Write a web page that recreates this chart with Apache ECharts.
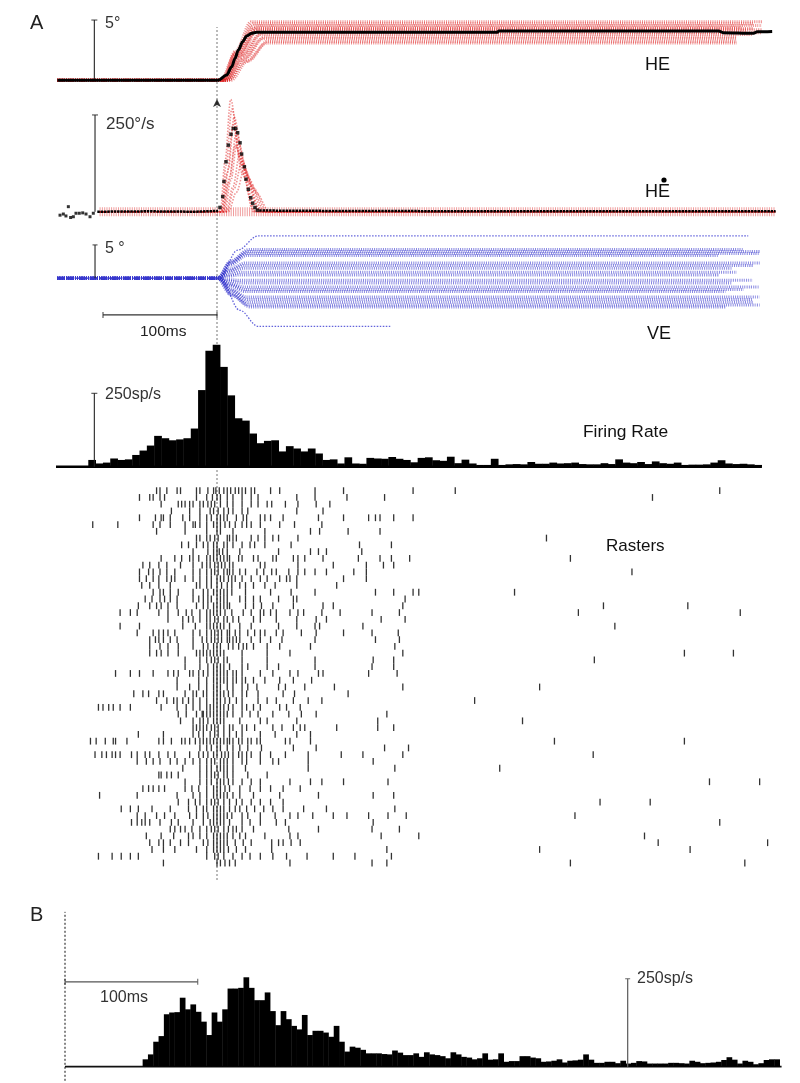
<!DOCTYPE html>
<html><head><meta charset="utf-8">
<script src="https://cdn.jsdelivr.net/npm/echarts@6/dist/echarts.min.js"></script>
<style>html,body{margin:0;padding:0;background:#fff;}#c{width:800px;height:1083px;}</style>
</head><body><div id="c"></div>
<script>
// ================= DATA =================
// Horizontal eye position (deg): mean trace and individual trials (red)
const heMean = [[-140,0],[1,0],[8.5,0.44],[12.9,1.13],[15.8,1.82],[18.7,2.51],[22.5,3.2],[26,3.67],[30.4,3.9],[34.8,3.98],[246,3.98],[247,4.1],[440,4.1],[444,3.95],[470,3.9],[474,4.02],[487,4.05]];
const heTrials = [
  [[-140,0],[5,0],[16,2.4],[30,4.85],[478,4.85]],
  [[-140,0],[6,0],[17,2.35],[32,4.7],[470,4.7]],
  [[-140,0],[4,0],[17,2.3],[33,4.55],[478,4.55]],
  [[-140,0],[7,0],[19,2.2],[35,4.4],[460,4.4]],
  [[-140,0],[3,0],[16,2.15],[33,4.3],[470,4.3]],
  [[-140,0],[8,0],[20,2.1],[36,4.2],[478,4.2]],
  [[-140,0],[5,0],[18,2.05],[35,4.1],[465,4.1]],
  [[-140,0],[9,0],[22,2.0],[40,3.95],[478,3.95]],
  [[-140,0],[6,0],[20,1.9],[38,3.8],[470,3.8]],
  [[-140,0],[10,0],[24,1.8],[42,3.6],[456,3.6]],
  [[-140,0],[7,0],[22,1.7],[40,3.45],[456,3.45]],
  [[-140,0],[12,0],[27,1.6],[45,3.25],[456,3.25]],
  [[-140,0],[9,0],[25,1.55],[44,3.1],[456,3.1]]
];
// Horizontal eye velocity (deg/s)
const velMeanT = [2.6,5,6.1,7.9,9.9,12.3,14.3,16.4,18.1,20.2,21.6,24,25.4,27.5,29.6,31.3,33.3,35.4];
const velMeanV = [11,39,78,129,172,200,215,215,204,178,149,116,84,58,36,22,11,4];
const velNoiseT = [-140.6,-137.7,-134.8,-132.5,-130.4,-128.4,-126,-123.7,-120.8,-117.8,-114.9,-111.4,-108.5];
const velNoiseV = [-4,-9,-6,-11,13,-15,-13,-4,-4,-3,-6,-13,-4];
const velMeanPre = [[-105,0],[-60,1],[-20,0],[1,2]];
const velMeanPost = [[37,3],[100,2],[250,1],[490,1]];
const velBand = [[-103,0],[490,0]];
const velTrials = [
  [[-103,0],[3,0],[7,130],[12,290],[20,140],[32,0],[490,0]],
  [[-103,0],[4,0],[8,120],[13,265],[22,120],[34,0],[490,0]],
  [[-103,0],[5,0],[10,110],[15,245],[24,110],[36,0],[490,0]],
  [[-103,0],[4,0],[9,100],[14,225],[22,100],[33,0],[490,0]],
  [[-103,0],[6,0],[11,90],[17,205],[26,95],[38,0],[490,0]],
  [[-103,0],[7,0],[12,80],[18,185],[28,85],[40,0],[490,0]],
  [[-103,0],[5,0],[10,75],[16,170],[26,80],[38,0],[490,0]],
  [[-103,0],[8,0],[14,65],[20,150],[30,70],[42,0],[490,0]],
  [[-103,0],[9,0],[15,60],[22,130],[32,60],[44,0],[490,0]],
  [[-103,0],[10,0],[17,50],[24,110],[34,50],[46,0],[490,0]]
];
// Vertical eye position (deg), individual trials (blue)
const veTrials = [
  [[-140,0],[2,0],[18,4.2],[36,6.35],[466,6.35]],
  [[-140,0],[1,0],[12,2.6],[28,4.3],[462,4.3]],
  [[-140,0],[1,0],[12,2.4],[27,4.0],[476,4.0]],
  [[-140,0],[0,0],[11,2.2],[26,3.7],[476,3.7]],
  [[-140,0],[2,0],[12,2.0],[26,3.4],[440,3.4]],
  [[-140,0],[1,0],[11,1.4],[25,2.3],[476,2.3]],
  [[-140,0],[0,0],[10,1.1],[24,1.9],[470,1.9]],
  [[-140,0],[2,0],[11,0.9],[24,1.5],[452,1.5]],
  [[-140,0],[1,0],[10,0.5],[22,0.9],[456,0.9]],
  [[-140,0],[0,0],[10,0.3],[20,0.5],[440,0.5]],
  [[-140,0],[1,0],[10,-0.2],[20,-0.3],[470,-0.3]],
  [[-140,0],[0,0],[10,-0.4],[22,-0.7],[452,-0.7]],
  [[-140,0],[1,0],[11,-0.8],[24,-1.3],[476,-1.3]],
  [[-140,0],[2,0],[12,-1.0],[25,-1.7],[462,-1.7]],
  [[-140,0],[0,0],[11,-1.2],[25,-2.0],[446,-2.0]],
  [[-140,0],[1,0],[12,-1.7],[26,-2.8],[476,-2.8]],
  [[-140,0],[2,0],[13,-1.9],[27,-3.2],[470,-3.2]],
  [[-140,0],[1,0],[12,-2.2],[27,-3.6],[470,-3.6]],
  [[-140,0],[0,0],[12,-2.4],[28,-4.0],[476,-4.0]],
  [[-140,0],[2,0],[13,-2.6],[29,-4.3],[446,-4.3]],
  [[-140,0],[3,0],[20,-4.8],[36,-7.2],[152,-7.2]]
];
// Firing rate histogram, panel A (sp/s)
const frStart = -145, frWidth = 6.42;
const frValues = [0,0,0,0,0,23,11,14,28,23,25,40,55,72,105,97,90,93,97,130,261,395,415,340,243,165,157,113,80,88,90,52,70,62,52,62,45,23,25,11,32,11,10,30,28,27,33,27,23,15,30,32,22,20,34,12,24,11,6,6,27,6,8,9,8,16,10,10,14,11,12,14,9,8,8,12,9,25,14,12,16,9,18,12,10,14,6,7,7,8,14,22,11,9,10,8,6];
const frBaseline = [[-142,0],[478,0]];
// Rasters: spike times (ms) per trial
const rasterTimes = [
[-53,-50,-44,-35,-32,-18,-15,-8,-3,-1,2,6,9,12,16,19,22,25,30,33,47,55,86,111,172,209,441],
[-68,-59,-56,-50,-46,-18,-9,-4,0,3,9,14,22,30,36,70,86,114,147,382],
[-49,-34,-31,-28,-24,-21,-15,-12,-8,-5,-2,3,9,14,22,30,36,44,48,60,71,87,99],
[-40,-24,-15,-6,-3,1,6,10,14,22,27,70,93],
[-68,-54,-49,-47,-41,-30,-24,-15,-9,-5,0,3,6,9,17,23,26,38,42,47,58,89,111,133,139,143,155,172],
[-109,-87,-56,-50,-41,-28,-21,-19,-15,-9,-3,0,3,7,11,16,22,26,30,38,55,68,92],
[-53,-28,-9,0,3,14,42,82,90,115,143],
[-18,-15,-9,-6,-2,1,9,11,14,17,30,36,42,49,54,71,289],
[-31,-25,-18,-12,-8,-3,0,6,9,14,22,29,33,42,65,125,153],
[-21,-8,-3,0,2,5,9,20,54,82,89,96,127],
[-49,-37,-31,-24,-21,-16,-9,-6,-3,0,3,6,9,11,19,22,32,36,49,52,67,71,77,93,124,143,153,169,310],
[-65,-59,-51,-44,-32,-21,-13,-9,-6,-2,1,4,7,11,14,38,42,71,102,131,146,155],
[-68,-60,-56,-50,-44,-37,-21,-15,-9,-5,-2,1,6,9,11,14,20,25,35,41,48,52,63,71,77,86,96,120,131,364],
[-68,-62,-56,-51,-44,-40,-37,-28,-21,-15,-9,-5,0,3,6,10,13,16,22,30,38,44,55,61,64,70,111,131],
[-66,-59,-51,-41,-18,-15,-9,-5,0,4,9,13,20,25,32,42,51,70,105],
[-56,-50,-47,-41,-34,-21,-12,-8,-3,0,3,6,9,13,25,47,65,86,139,155,172,177,261],
[-63,-57,-50,-46,-41,-35,-21,-16,-12,-8,-5,0,3,6,9,20,25,32,38,54,67,70,165],
[-69,-59,-53,-49,-43,-35,-18,-12,-8,-3,0,3,6,9,11,25,32,39,49,67,93,102,163,339,413],
[-85,-76,-70,-51,-43,-34,-27,-22,-15,-9,-6,-3,0,3,7,13,23,30,38,41,47,52,64,71,76,92,108,136,160,317,459],
[-43,-30,-25,-21,-15,-9,-6,-2,1,6,9,14,19,32,38,52,70,87,96,144,165],
[-85,-68,-30,-19,-9,-6,-3,0,3,6,11,20,30,54,70,86,90,128,349],
[-70,-56,-51,-47,-43,-37,-21,-15,-9,-5,-2,1,4,9,11,16,20,27,33,38,42,52,58,74,87,111,136,159],
[-59,-54,-51,-47,-41,-35,-21,-13,-9,-5,-2,1,4,9,11,14,17,20,30,38,47,57,86,139,160],
[-59,-50,-43,-34,-21,-12,-8,-3,0,3,10,14,19,23,26,32,44,55,82,156],
[-59,-53,-49,-43,-34,-18,-15,-12,-9,-6,-3,0,3,6,22,44,64,163,410,453],
[-28,-15,-9,-5,-2,1,6,9,22,44,86,137,155,331],
[-28,-15,-8,-3,0,3,6,11,22,27,44,54,86,136,155],
[-89,-76,-68,-56,-43,-38,-34,-24,-21,-16,-12,-8,-3,0,3,6,9,14,17,22,38,49,64,71,89,93,133,158],
[-35,-16,-9,-3,0,3,6,9,14,17,22,25,32,42,55,67,83],
[-35,-24,-16,-9,-3,0,3,9,14,22,27,35,54,60,77,103,163,283],
[-73,-65,-60,-51,-47,-28,-21,-18,-12,-9,-3,0,3,6,10,14,22,26,36,58,68,115],
[-53,-44,-38,-35,-30,-25,-21,-15,-9,-3,0,3,7,11,17,22,36,44,52,67,80,92,226],
[-104,-100,-95,-91,-85,-76,-49,-35,-27,-21,-15,-9,-6,-3,0,3,6,10,14,22,26,32,38,55,61,73],
[-34,-27,-18,-13,-12,-9,-6,-3,0,3,6,9,14,22,29,36,49,63,74,87,149],
[-32,-21,-15,-12,-8,-3,0,3,6,20,38,44,70,141,268],
[-21,-18,-15,-12,-9,-5,-2,1,6,11,14,22,26,33,49,57,67,73,77,105,141,155],
[-69,-47,-21,-16,-12,-6,-2,1,6,11,17,22,38,51,70,82],
[-111,-106,-98,-91,-89,-79,-51,-47,-40,-31,-28,-24,-19,-15,-12,-9,-6,-3,0,3,6,9,11,14,19,22,27,30,35,38,60,64,82,296,410],
[-15,-9,-5,0,3,9,14,20,27,39,67,87,147,168],
[-107,-101,-97,-92,-89,-85,-75,-70,-63,-59,-51,-43,-37,-24,-16,-12,-8,-3,0,4,7,10,14,19,22,26,30,38,47,60,80,109,128,163,330],
[-70,-62,-56,-50,-41,-35,-28,-21,-15,-9,-5,-2,3,6,9,14,22,26,38,49,54,80,137],
[-30,-15,-9,-5,0,3,6,9,14,25,80,156,248],
[-51,-49,-44,-40,-34,-15,-9,-5,-2,1,6,9,14,27,44],
[-28,-15,-9,-5,0,3,6,10,14,22,30,38,64,82,92,111,150,432,476],
[-65,-60,-56,-51,-46,-28,-22,-16,-9,-3,0,3,7,11,20,29,38,47,58,73],
[-103,-70,-35,-21,-15,-9,-3,0,3,6,9,14,20,32,55,89,137,155],
[-34,-25,-19,-15,-9,-5,-2,1,6,11,17,22,30,38,47,58,336,380],
[-84,-76,-69,-57,-41,-25,-18,-12,-9,-3,0,3,6,11,16,20,26,33,41,49,58,76,96,156],
[-70,-63,-53,-46,-37,-24,-18,-12,-8,-3,0,3,6,9,13,22,27,38,51,64,71,84,102,114,133,150,166,314],
[-75,-70,-66,-63,-59,-50,-40,-34,-21,-12,-6,-3,0,3,6,11,22,29,38,52,60,137,441],
[-41,-37,-32,-28,-22,-15,-9,-5,-2,1,6,10,14,17,22,32,63,89,136,160],
[-62,-49,-38,-25,-21,-15,-9,-3,0,3,6,9,14,20,25,42,64,71,144,177,375],
[-59,-51,-47,-41,-32,-25,-12,-8,-3,0,3,6,9,16,23,30,48,54,58,65,73,387,483],
[-57,-47,-37,-18,-9,-3,0,3,6,10,17,25,48,149,283,415],
[-104,-92,-84,-76,-69,-9,-2,1,6,14,22,29,38,49,61,79,102,121,153],
[-47,0,3,7,11,16,64,136,149,310,463]
];
// Panel B histogram (sp/s)
const bStart = 58.5, bWidth = 4;
const bValues = [21,35,71,87,149,154,155,196,163,177,156,128,90,154,128,163,222,222,224,254,224,189,189,211,158,118,158,135,116,106,147,90,102,102,97,85,116,71,43,57,54,
48,38,38,38,36,35,46,40,33,33,38,28,41,35,33,30,24,41,35,28,26,21,24,38,20,21,38,14,16,16,30,30,26,24,14,15,17,21,12,17,18,20,35,20,11,11,14,14,10,17,9,11,16,15,9,9,9,9,11,11,10,9,17,14,10,11,12,14,19,27,20,9,17,14,7,10,19,21,21];
const bBaseline = [[0,0],[540,0]];
// Scale bars and markers (data units)
const heBar = [[-107.6,0],[-107.6,5]];
const velBar = [[-107,0],[-107,250]];
const veBar = [[-107,0],[-107,5]];
const msBarA = [[-100,-5.5],[0,-5.5]];
const frBar = [[-107.6,0],[-107.6,250]];
const bRateBar = [[424,0],[424,250]];
const msBarB = [[0,241],[100,241]];
const onsetMarker = [[0,291]];
const zeroLineA = [[0,0],[0,1]];
const zeroLineB = [[0,-40],[0,440]];

// ================= CHART =================
const FONT = '"Liberation Sans", Arial, Helvetica, sans-serif';
const chart = echarts.init(document.getElementById('c'), null, {renderer:'canvas'});
const gL = 57.4, gW = 718.2;
const grids = [
  {left:gL, width:gW, top:14, height:78.4},      // 0 HE
  {left:gL, width:gW, top:95.6, height:135.45},  // 1 HE dot
  {left:gL, width:gW, top:224.9, height:113.4},  // 2 VE
  {left:gL, width:gW, top:334.6, height:132.1},  // 3 firing rate
  {left:gL, width:gW, top:487.3, height:379.1},  // 4 rasters
  {left:gL, width:gW, top:27, height:853},       // 5 zero line overlay
  {left:65, width:716.6, top:911.8, height:169}  // 6 panel B
];
const yr = [[-1,5.5],[-50,300],[-9,8],[0,450],[-0.5,55.5],[0,1],[-40,440]];
const xAxes = grids.map((g,i)=>({gridIndex:i,type:'value',min:i===6?0:-140,max:i===6?540:490,show:false}));
const yAxes = grids.map((g,i)=>({gridIndex:i,type:'value',min:yr[i][0],max:yr[i][1],show:false,inverse:i===4}));

function line(ax, data, style, extra){
  return Object.assign({type:'line',xAxisIndex:ax,yAxisIndex:ax,data:data,showSymbol:false,symbol:'none',
    silent:true,lineStyle:style,animation:false}, extra||{});
}
function pts(ax, data, symbol, size, color, z){
  return {type:'scatter',xAxisIndex:ax,yAxisIndex:ax,data:data,symbol:symbol,symbolSize:size,
    itemStyle:{color:color},silent:true,animation:false,z:z||3};
}
function hist(ax, start, width, values){
  const data = values.map((v,k)=>[start+k*width, start+(k+1)*width, v]);
  return {type:'custom',xAxisIndex:ax,yAxisIndex:ax,data:data,silent:true,animation:false,z:3,
    renderItem:(p,api)=>{
      const a = api.coord([api.value(0), api.value(2)]);
      const b = api.coord([api.value(1), 0]);
      return {type:'rect',shape:{x:a[0],y:a[1],width:b[0]-a[0]+0.4,height:b[1]-a[1]},style:{fill:'#000'}};
    }};
}
const series = [];
// HE
heTrials.forEach(d=>series.push(line(0,d,{color:'rgba(222,40,40,0.55)',width:3,type:[1,1.2]},{smooth:0.35,smoothMonotone:'x',z:2})));
series.push(line(0,heMean,{color:'#000',width:3},{smooth:0.3,smoothMonotone:'x',z:4}));
series.push(line(0,heBar,{color:'#222',width:1.1}));
series.push(pts(0,[heBar[1]],'rect',[6,1.1],'#222'));
// HE dot
series.push(line(1,velBand,{color:'rgba(225,60,60,0.5)',width:9,type:[1,1.3]},{z:1}));
velTrials.forEach(d=>series.push(line(1,d,{color:'rgba(225,40,40,0.5)',width:1.6,type:[1.5,1.5]},{smooth:0.35,smoothMonotone:'x',z:2})));
series.push(line(1,velMeanPre,{color:'#000',width:2.5,type:[2.5,0.8]},{z:4}));
series.push(line(1,velMeanPost,{color:'#000',width:2.5,type:[2.5,0.8]},{z:4}));
series.push(pts(1,velMeanT.map((t,i)=>[t,velMeanV[i]]),'rect',3.5,'#000',5));
series.push(pts(1,velNoiseT.map((t,i)=>[t,velNoiseV[i]]),'rect',3,'#000',5));
series.push(line(1,velBar,{color:'#222',width:1.1}));
series.push(pts(1,[velBar[1]],'rect',[6,1.1],'#222'));
series.push(pts(1,onsetMarker,'arrow',[6,8],'#000',6));
// VE
veTrials.forEach((d,i)=>{
  const outer = (i===0 || i===veTrials.length-1);
  series.push(line(2,d,{color:outer?'rgba(60,60,210,0.8)':'rgba(55,55,205,0.6)',width:outer?1.3:3,type:outer?[1.5,1.5]:[1,1.2]},{smooth:0.35,smoothMonotone:'x',z:2}));
});
series.push(line(2,veBar,{color:'#222',width:1.1}));
series.push(pts(2,[veBar[1]],'rect',[5,1.1],'#222'));
series.push(line(2,msBarA,{color:'#333',width:1.2}));
series.push(pts(2,msBarA,'rect',[1.2,6],'#333'));
// Firing rate A
series.push(line(3,frBaseline,{color:'#000',width:2.5},{z:2}));
series.push(hist(3,frStart,frWidth,frValues));
series.push(line(3,frBar,{color:'#222',width:1.1}));
series.push(pts(3,[frBar[1]],'rect',[6,1.1],'#222'));
// Rasters
const rasterPts = [];
rasterTimes.forEach((row,i)=>row.forEach(t=>rasterPts.push([t,i])));
series.push(pts(4,rasterPts,'rect',[1.3,6.8],'#000',3));
// Zero line
series.push(line(5,zeroLineA,{color:'#777',width:1,type:[2,2]},{z:1}));
// Panel B
series.push(line(6,bBaseline,{color:'#111',width:1.8},{z:2}));
series.push(hist(6,bStart,bWidth,bValues));
series.push(line(6,zeroLineB,{color:'#111',width:1,type:[2,2]},{z:4}));
series.push(line(6,bRateBar,{color:'#666',width:1.3},{z:5}));
series.push(pts(6,[bRateBar[1]],'rect',[5,1.2],'#666',5));
series.push(line(6,msBarB,{color:'#555',width:1.3}));
series.push(pts(6,msBarB,'rect',[1.2,6],'#555'));

function txt(s,x,y,size,color){
  return {type:'text',x:x,y:y,silent:true,style:{text:s,font:size+'px '+FONT,fill:color||'#222',align:'left',verticalAlign:'middle',textAlign:'left',textVerticalAlign:'middle'}};
}
const graphic = [
  txt('A',30,23,20,'#222'),
  txt('5°',105,24,16,'#333'),
  txt('HE',645,65,18,'#111'),
  txt('250°/s',106,124,17,'#333'),
  txt('HE',645,192,18,'#111'),
  {type:'circle',silent:true,shape:{cx:664,cy:180,r:2.6},style:{fill:'#000'}},
  txt('5 °',105,249,16,'#333'),
  txt('100ms',140,332,15.5,'#222'),
  txt('VE',647,334,18,'#111'),
  txt('250sp/s',105,395,16,'#333'),
  txt('Firing Rate',583,432,17.4,'#111'),
  txt('Rasters',606,546,17,'#111'),
  txt('B',30,915,20,'#222'),
  txt('100ms',100,998,16,'#333'),
  txt('250sp/s',637,979,16,'#333')
];
chart.setOption({animation:false,backgroundColor:'#fff',grid:grids,xAxis:xAxes,yAxis:yAxes,series:series,graphic:graphic});
</script></body></html>
